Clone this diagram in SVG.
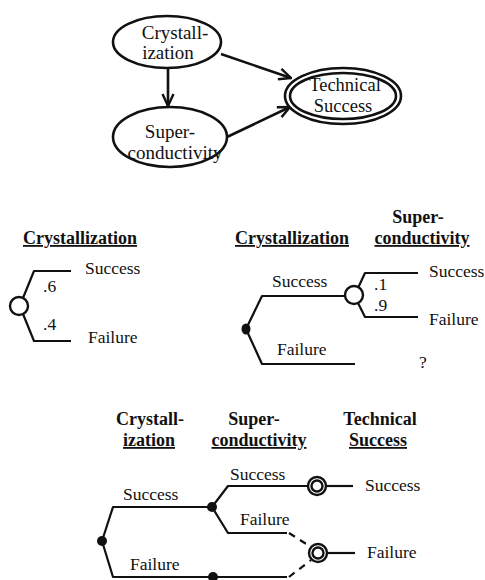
<svg xmlns="http://www.w3.org/2000/svg" width="485" height="580" viewBox="0 0 485 580">
  <style>
    text { font-family: "Liberation Serif", "Times New Roman", serif; fill: #111; }
    .lbl { font-size: 17.5px; }
    .big { font-size: 19px; }
    .ts { font-size: 18.5px; }
    .hdr { font-size: 18px; font-weight: bold; }
    .ul { text-decoration: underline; }
    .node { fill: #fff; stroke: #111; stroke-width: 2.6; }
    .edge { fill: none; stroke: #111; stroke-width: 2.6; }
    .br { fill: none; stroke: #111; stroke-width: 2.2; stroke-linejoin: round; }
    .dash { fill: none; stroke: #111; stroke-width: 2.2; stroke-dasharray: 7 6; }
    .dot { fill: #111; }
    .chance { fill: #fff; stroke: #111; stroke-width: 2.4; }
  </style>
  <defs>
    <marker id="arrow" viewBox="0 0 14 14" refX="13" refY="7" markerWidth="14" markerHeight="14" markerUnits="userSpaceOnUse" orient="auto">
      <path d="M1,1.5 L13,7 L1,12.5" fill="none" stroke="#111" stroke-width="2.4" stroke-linejoin="miter"/>
    </marker>
  </defs>

  <!-- Influence diagram -->
  <g id="connectors">
    <line class="edge" x1="168" y1="68" x2="168" y2="106" marker-end="url(#arrow)"/>
    <line class="edge" x1="221" y1="54" x2="291" y2="78" marker-end="url(#arrow)"/>
    <line class="edge" x1="227" y1="137" x2="290" y2="107" marker-end="url(#arrow)"/>
  </g>
  <g id="crystallization">
    <ellipse class="node" cx="167" cy="42" rx="54" ry="26"/>
    <text class="big" x="175" y="39" text-anchor="middle">Crystall-</text>
    <text class="big" x="168" y="59" text-anchor="middle">ization</text>
  </g>
  <g id="superconductivity">
    <ellipse class="node" cx="170" cy="137" rx="57" ry="30"/>
    <text class="big" x="170" y="138" text-anchor="middle">Super-</text>
    <text class="big" x="175" y="159" text-anchor="middle">conductivity</text>
  </g>
  <g id="technical-success">
    <ellipse class="node" cx="343" cy="96" rx="58" ry="28"/>
    <ellipse class="node" cx="343" cy="96" rx="53" ry="23"/>
    <text class="ts" x="345" y="91" text-anchor="middle">Technical</text>
    <text class="ts" x="343" y="112" text-anchor="middle">Success</text>
  </g>

  <!-- Single chance node tree -->
  <g id="tree-crystallization">
    <text class="hdr ul" x="23" y="244">Crystallization</text>
    <path class="br" d="M23,298 L34,271 L71,271"/>
    <path class="br" d="M23,314 L34,341 L71,341"/>
    <circle class="chance" cx="19" cy="306" r="9"/>
    <text class="lbl" x="85" y="274">Success</text>
    <text class="lbl" x="88" y="343">Failure</text>
    <text class="lbl" x="43" y="292">.6</text>
    <text class="lbl" x="43" y="330">.4</text>
  </g>

  <!-- Two-stage tree -->
  <g id="tree-two-stage">
    <text class="hdr ul" x="235" y="244">Crystallization</text>
    <text class="hdr" x="418" y="223" text-anchor="middle">Super-</text>
    <text class="hdr ul" x="422" y="244" text-anchor="middle">conductivity</text>
    <path class="br" d="M246,329 L262,296 L346,296"/>
    <path class="br" d="M246,329 L262,364 L355,364"/>
    <ellipse class="dot" cx="246" cy="329" rx="4.5" ry="5.5"/>
    <path class="br" d="M358,288 L365,273 L418,273"/>
    <path class="br" d="M358,303 L365,317 L418,317"/>
    <circle class="chance" cx="354" cy="295" r="9"/>
    <text class="lbl" x="272" y="287">Success</text>
    <text class="lbl" x="277" y="355">Failure</text>
    <text class="lbl" x="374" y="290">.1</text>
    <text class="lbl" x="374" y="311">.9</text>
    <text class="lbl" x="429" y="277">Success</text>
    <text class="lbl" x="429" y="325">Failure</text>
    <text class="lbl" x="419" y="368">?</text>
  </g>

  <!-- Three-stage tree -->
  <g id="tree-three-stage">
    <text class="hdr" x="150" y="425" text-anchor="middle">Crystall-</text>
    <text class="hdr ul" x="149" y="446" text-anchor="middle">ization</text>
    <text class="hdr" x="254" y="425" text-anchor="middle">Super-</text>
    <text class="hdr ul" x="259" y="446" text-anchor="middle">conductivity</text>
    <text class="hdr" x="380" y="425" text-anchor="middle">Technical</text>
    <text class="hdr ul" x="378" y="446" text-anchor="middle">Success</text>

    <path class="br" d="M102,541 L113,507 L212,507"/>
    <path class="br" d="M102,541 L113,577 L287,577"/>
    <path class="br" d="M212,507 L228,486 L309,486"/>
    <path class="br" d="M212,507 L228,533 L287,533"/>
    <path class="dash" d="M289,533 L311,547"/>
    <path class="dash" d="M289,577 L311,560"/>
    <line class="br" x1="326" y1="486" x2="353" y2="486"/>
    <line class="br" x1="327" y1="553" x2="355" y2="553"/>
    <circle class="dot" cx="102" cy="541" r="5"/>
    <circle class="dot" cx="212" cy="507" r="5"/>
    <circle class="dot" cx="213" cy="577" r="5"/>
    <circle class="chance" cx="317" cy="486" r="9"/>
    <circle class="chance" cx="317" cy="486" r="5.5" stroke-width="2"/>
    <circle class="chance" cx="318" cy="553" r="9"/>
    <circle class="chance" cx="318" cy="553" r="5.5" stroke-width="2"/>

    <text class="lbl" x="123" y="500">Success</text>
    <text class="lbl" x="130" y="570">Failure</text>
    <text class="lbl" x="230" y="480">Success</text>
    <text class="lbl" x="240" y="525">Failure</text>
    <text class="lbl" x="365" y="491">Success</text>
    <text class="lbl" x="367" y="558">Failure</text>
  </g>
</svg>
